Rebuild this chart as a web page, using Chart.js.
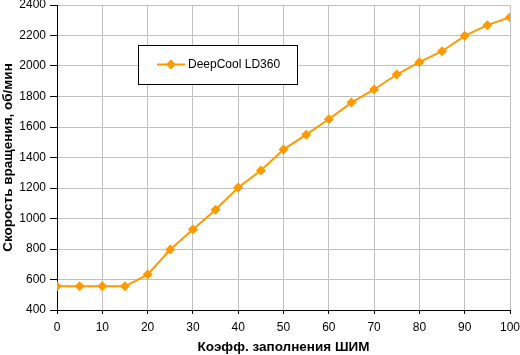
<!DOCTYPE html>
<html><head><meta charset="utf-8">
<script src="https://cdn.jsdelivr.net/npm/chart.js@4/dist/chart.umd.min.js"></script>
<style>html,body{margin:0;padding:0;background:#fff;}#wrap{width:520px;height:355px;position:relative;}</style>
</head><body><div id="wrap"><canvas id="c" width="520" height="355"></canvas></div>
<script>
const pwm = [0,5,10,15,20,25,30,35,40,45,50,55,60,65,70,75,80,85,90,95,100];
const rpm = [555,555,555,555,632,797,928,1058,1203,1315,1452,1550,1651,1760,1846,1944,2025,2097,2198,2268,2320];
const seriesName = 'DeepCool LD360';
const xTitle = 'Коэфф. заполнения ШИМ';
const yTitle = 'Скорость вращения, об/мин';
const FONT = '"Liberation Sans", Arial, sans-serif';
const ORANGE = '#FF9900';

const legendBox = {
  id: 'legendBox',
  afterDatasetsDraw(chart) {
    const ctx = chart.ctx;
    const ds = chart.data.datasets[0];
    ctx.save();
    ctx.fillStyle = '#fff';
    ctx.fillRect(138.5, 45.5, 159, 39);
    ctx.strokeStyle = '#000';
    ctx.lineWidth = 1;
    ctx.strokeRect(138.5, 45.5, 159, 39);
    ctx.strokeStyle = ds.borderColor;
    ctx.lineWidth = 2;
    ctx.beginPath(); ctx.moveTo(157, 64.5); ctx.lineTo(185, 64.5); ctx.stroke();
    ctx.fillStyle = ds.pointBackgroundColor;
    ctx.beginPath();
    ctx.moveTo(171, 59.5); ctx.lineTo(176, 64.5); ctx.lineTo(171, 69.5); ctx.lineTo(166, 64.5); ctx.closePath(); ctx.fill();
    ctx.fillStyle = '#000';
    ctx.font = '12px ' + FONT;
    ctx.textBaseline = 'middle';
    ctx.fillText(ds.label, 188, 65);
    ctx.restore();
  }
};

new Chart(document.getElementById('c'), {
  type: 'line',
  data: {
    datasets: [{
      label: seriesName,
      data: pwm.map((x, i) => ({x: x, y: rpm[i]})),
      borderColor: ORANGE,
      backgroundColor: ORANGE,
      pointBackgroundColor: ORANGE,
      pointBorderColor: ORANGE,
      borderWidth: 2,
      pointStyle: 'rectRot',
      pointRadius: 5,
      pointBorderWidth: 0,
      tension: 0
    }]
  },
  options: {
    responsive: false,
    animation: false,
    devicePixelRatio: 1,
    layout: { padding: { top: 5, right: 10, left: 0, bottom: 0 } },
    plugins: { legend: { display: false }, tooltip: { enabled: false } },
    scales: {
      x: {
        type: 'linear', min: 0, max: 100,
        afterFit(s) { s.height = 45; s.paddingLeft = 0; s.paddingRight = 0; },
        ticks: { stepSize: 10, color: '#000', font: { family: FONT, size: 12 }, padding: 6, maxRotation: 0,
                 callback: v => String(v) },
        grid: { color: '#C0C0C0', lineWidth: 1, tickLength: 4, tickColor: '#000' },
        border: { color: '#000', width: 1 },
        title: { display: true, text: xTitle, color: '#000', font: { family: FONT, size: 13.5, weight: 'bold' }, padding: { top: 0, bottom: 0 } }
      },
      y: {
        min: 400, max: 2400,
        afterFit(s) { s.width = 57; s.paddingTop = 0; s.paddingBottom = 0; },
        ticks: { stepSize: 200, color: '#000', font: { family: FONT, size: 12 }, padding: 4,
                 callback: v => String(v) },
        grid: { color: '#C0C0C0', lineWidth: 1, tickLength: 7, tickColor: '#000' },
        border: { color: '#000', width: 1 },
        title: { display: true, text: yTitle, color: '#000', font: { family: FONT, size: 13.5, weight: 'bold' }, padding: { top: 0, bottom: 0 } }
      }
    }
  },
  plugins: [legendBox]
});
</script></body></html>
